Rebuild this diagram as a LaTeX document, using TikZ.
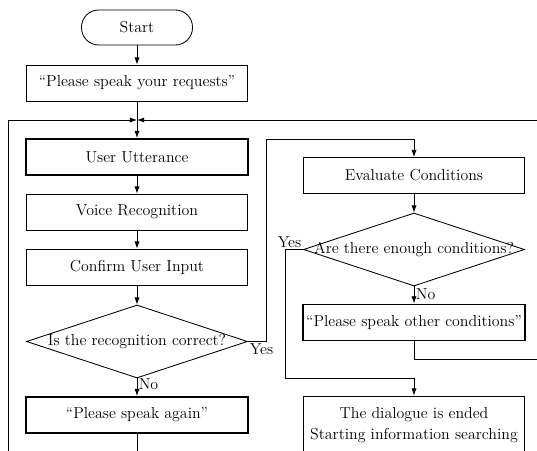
\documentclass[tikz,border=0pt]{standalone}
\usepackage{tikz}
\usetikzlibrary{arrows.meta,positioning,calc,shapes.geometric}
\tikzset{
  block/.style      = {draw, line width=0.6pt, rectangle, minimum width=5.525cm,
                       minimum height=0.9cm, align=center},
  thickblock/.style = {block, line width=1.4pt},
  decision/.style   = {draw, line width=0.6pt, diamond, inner sep=0pt,
                       minimum width=5.525cm, minimum height=1.825cm},
  terminal/.style   = {draw, line width=0.6pt, rectangle, rounded corners=0.43cm,
                       minimum width=2.775cm, minimum height=0.875cm},
  wire/.style       = {line width=0.6pt},
  sig/.style        = {-{Latex[length=1.8mm,width=1.3mm]}, line width=0.6pt},
  lbl/.style        = {inner sep=1pt},
}

\begin{document}
\begin{tikzpicture}[x=0.025cm,y=-0.025cm,font=\fontsize{11.3}{14.5}\selectfont]
\useasboundingbox (0,0) rectangle (537,451);
\clip (0,0) rectangle (537,451);
\node[terminal] (start) at (137,27.5) {Start};
\node[block] (req) at (137,83) {``Please speak your requests''};
\node[thickblock] (utt) at (137,157) {User Utterance};
\node[block] (voice) at (137,212) {Voice Recognition};
\node[block] (conf) at (137,267) {Confirm User Input};
\node[decision] (rec) at (137,341.5) {\makebox[0pt]{Is the recognition correct?}};
\node[thickblock] (again) at (137,415) {``Please speak again''};
\node[block] (eval) at (414,175.5) {Evaluate Conditions};
\node[decision] (cond) at (414,249.5) {\makebox[0pt]{Are there enough conditions?}};
\node[thickblock, inner xsep=0pt] (other) at (414,322.5) {``Please speak other conditions''};
\node[block, minimum height=1.45cm] (done) at (414,425)
  {The dialogue is ended\\Starting information searching};
% loop ends running off the picture
\coordinate (join) at (137,120);
\coordinate (loopL) at (8,451);
\coordinate (loopR) at (537,120);
\coordinate (yesA) at (266,139);
\coordinate (yesB) at (285,378);
\coordinate (backR) at (537,359);
\coordinate (againEnd) at (137,451);
\draw[sig] (start) -- (req);
\draw[sig] (req) -- (utt);
\draw[sig] (loopL) |- (join);
\draw[sig] (loopR) -- (join);
\draw[sig] (utt) -- (voice);
\draw[sig] (voice) -- (conf);
\draw[sig] (conf) -- (rec);
\draw[sig] (rec) -- node[right,lbl,pos=0.35]{No} (again);
\draw[wire] (again) -- (againEnd);
\draw[sig] (rec.east) node[below right,lbl]{Yes} -| (yesA) -| (eval.north);
\draw[sig] (eval) -- (cond);
\draw[sig] (cond) -- node[right,lbl,pos=0.45]{No} (other);
\draw[wire] (other) |- (backR);
\draw[sig] (cond.west) node[above left,lbl]{Yes} -| (yesB) -| (done.north);
\end{tikzpicture}
\end{document}
